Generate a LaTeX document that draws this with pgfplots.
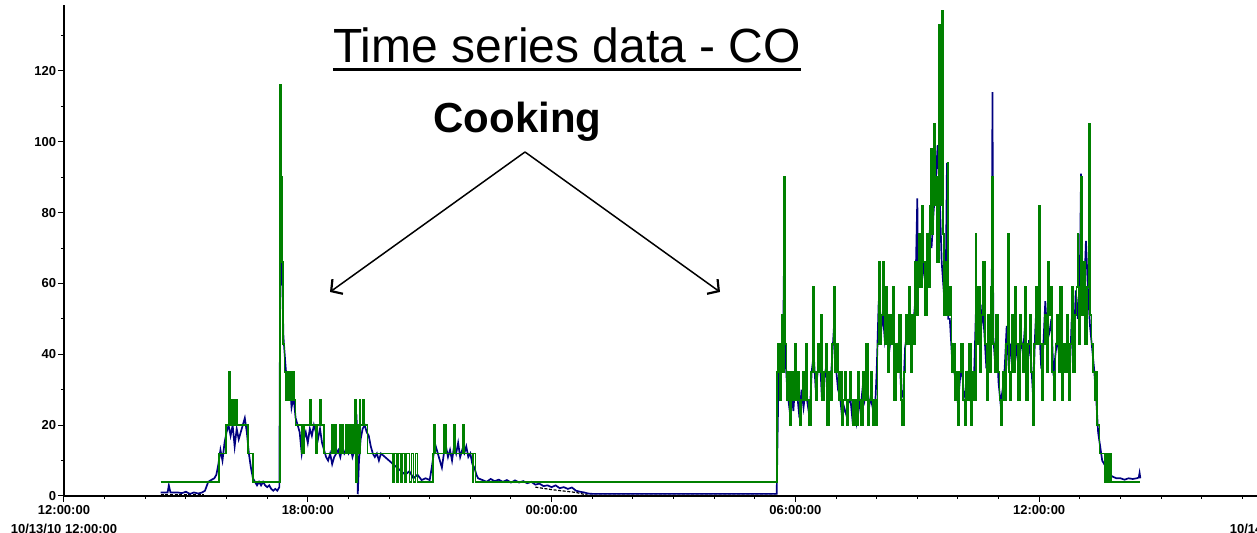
\documentclass[border=0pt]{standalone}
\usepackage{fontspec}
\setmainfont{Liberation Sans}
\usepackage{pgfplots}
\pgfplotsset{compat=1.18}
\usepackage{pgfplotstable}
\usetikzlibrary{arrows.meta}
\definecolor{cogreen}{RGB}{0,128,0}
\definecolor{conavy}{RGB}{0,0,128}

\pgfplotstableread{
h g
2.38 4
3.82 12
3.98 20
4.05 35
4.08 20
4.11 27
4.14 20
4.16 27
4.19 20
4.24 27
4.26 20
4.53 12
4.65 4
5.32 116
5.34 90
5.37 66
5.39 43
5.43 35
5.47 27
5.50 35
5.52 27
5.57 35
5.60 27
5.64 35
5.66 27
5.70 20
5.85 12
5.90 20
6.05 27
6.08 20
6.20 12
6.23 20
6.30 27
6.32 20
6.40 12
6.60 20
6.62 12
6.67 20
6.70 12
6.78 20
6.80 12
6.85 20
6.88 12
6.93 20
6.96 12
7.00 20
7.03 12
7.08 20
7.12 12
7.17 27
7.19 4
7.21 20
7.24 12
7.28 27
7.30 20
7.35 27
7.38 20
7.47 12
8.10 4
8.13 12
8.20 4
8.23 12
8.30 4
8.33 12
8.40 4
8.43 12
8.50 4
8.55 12
8.60 4
8.65 12
8.70 4
9.08 12
9.10 20
9.13 12
9.35 20
9.40 12
9.60 20
9.63 12
9.82 20
9.84 12
10.05 4
10.08 12
10.13 4
17.55 35
17.58 43
17.62 27
17.66 51
17.70 35
17.72 90
17.74 43
17.78 27
17.82 35
17.86 20
17.90 35
17.94 27
17.98 43
18.02 27
18.06 35
18.10 20
18.14 27
18.18 35
18.22 27
18.26 43
18.30 27
18.34 20
18.38 35
18.42 59
18.45 35
18.50 27
18.54 43
18.58 35
18.62 51
18.65 27
18.70 35
18.74 43
18.78 20
18.82 35
18.86 27
18.90 43
18.94 59
18.97 35
19.02 43
19.06 27
19.10 35
19.14 20
19.18 27
19.22 35
19.26 20
19.30 27
19.34 35
19.38 27
19.42 20
19.46 27
19.50 20
19.54 35
19.58 27
19.62 20
19.66 35
19.70 27
19.74 43
19.78 20
19.82 27
19.86 35
19.90 20
19.94 27
19.98 20
20.02 43
20.05 66
20.08 43
20.12 51
20.16 66
20.19 43
20.23 59
20.27 35
20.31 51
20.35 43
20.39 59
20.43 27
20.47 43
20.51 35
20.55 51
20.59 27
20.63 20
20.67 35
20.71 51
20.75 43
20.79 59
20.83 35
20.87 51
20.91 43
20.95 66
20.99 51
21.03 74
21.07 59
21.11 82
21.15 66
21.19 51
21.23 74
21.27 59
21.31 82
21.33 98
21.36 74
21.40 105
21.43 82
21.46 90
21.49 66
21.53 133
21.55 82
21.58 105
21.61 137
21.63 74
21.66 51
21.70 66
21.74 94
21.76 51
21.80 59
21.84 35
21.88 43
21.92 27
21.96 35
22.00 20
22.04 35
22.08 43
22.12 27
22.16 20
22.20 35
22.24 27
22.28 43
22.32 20
22.36 35
22.40 27
22.44 74
22.46 43
22.50 59
22.54 35
22.58 51
22.62 66
22.66 43
22.70 27
22.74 51
22.78 35
22.82 59
22.84 90
22.86 43
22.90 35
22.94 51
22.98 35
23.02 27
23.06 20
23.10 35
23.14 27
23.18 43
23.22 74
23.25 35
23.28 27
23.32 51
23.36 35
23.40 59
23.44 43
23.48 27
23.52 51
23.56 43
23.60 35
23.64 59
23.68 27
23.72 43
23.76 51
23.80 35
23.84 20
23.88 43
23.92 59
23.96 43
24.00 82
24.03 43
24.06 27
24.10 43
24.14 51
24.18 35
24.22 66
24.24 51
24.28 59
24.32 35
24.36 27
24.40 43
24.44 51
24.48 35
24.52 59
24.56 27
24.60 43
24.64 35
24.68 51
24.72 27
24.76 43
24.80 59
24.84 35
24.88 51
24.92 59
24.94 74
24.97 43
25.00 59
25.03 90
25.05 51
25.09 66
25.13 43
25.17 59
25.21 66
25.23 105
25.25 51
25.29 43
25.33 35
25.37 27
25.40 35
25.43 20
25.48 12
25.62 4
25.64 12
25.67 4
25.69 12
25.72 4
25.74 12
25.78 4
26.49 4
}\greendata

\pgfplotstableread{
h b
2.38 1
2.55 1
2.58 3
2.62 1
2.80 1
2.90 0.8
3.00 1.2
3.10 0.6
3.20 1
3.30 0.7
3.40 1
3.47 1.5
3.55 4
3.62 4.5
3.70 5
3.75 6
3.80 9
3.85 13
3.90 10
3.95 15
4.00 18
4.05 20
4.10 17
4.15 20
4.20 14
4.25 19
4.30 16
4.35 18
4.40 20
4.45 22
4.50 18
4.55 12
4.60 8
4.65 5
4.70 4
4.75 3
4.80 4
4.85 3
4.90 4
4.95 3
5.00 2.5
5.05 3
5.10 2
5.15 1.5
5.20 2
5.25 1.5
5.30 2.5
5.33 90
5.36 67
5.40 45
5.45 37
5.50 30
5.55 33
5.60 25
5.65 28
5.70 22
5.75 20
5.80 18
5.85 12
5.90 16
5.95 18
6.00 15
6.05 19
6.10 17
6.15 20
6.20 18
6.25 16
6.30 19
6.35 15
6.40 13
6.45 11
6.50 10
6.55 12
6.60 9
6.65 11
6.70 12
6.75 13
6.80 11
6.85 14
6.90 12
6.95 13
7.00 12
7.05 14
7.10 11
7.15 13
7.20 23
7.23 0.5
7.26 10
7.30 16
7.35 19
7.40 20
7.45 18
7.50 17
7.55 14
7.60 12
7.65 11
7.70 12
7.75 10
7.80 12
7.90 11
8.00 10
8.10 9
8.20 8
8.30 7
8.40 6
8.50 7
8.60 5
8.70 6
8.80 4.5
8.90 5
9.00 4.5
9.05 8
9.10 12
9.15 14
9.20 12
9.25 10
9.30 8
9.35 12
9.40 14
9.45 11
9.50 13
9.55 10
9.60 14
9.65 12
9.70 15
9.75 11
9.80 13
9.85 12
9.90 14
9.95 11
10.00 12
10.05 9
10.10 8
10.15 6
10.19 5
10.30 4.5
10.40 4
10.50 4.8
10.60 4.2
10.70 4.6
10.80 4
10.90 4.5
11.00 3.8
11.10 4.4
11.20 3.8
11.30 4.2
11.40 3.6
11.50 4
11.60 3.2
11.70 3.5
11.80 2.8
11.90 3
12.00 2.5
12.10 3
12.20 2.2
12.30 2.5
12.40 2
12.50 2.4
12.60 1.5
12.70 1.2
12.80 1
12.90 0.7
13.00 0.6
17.54 0.6
17.56 16
17.58 30
17.62 40
17.66 35
17.70 45
17.72 67
17.75 40
17.80 30
17.85 25
17.90 30
17.95 24
18.00 33
18.05 28
18.10 22
18.15 30
18.20 25
18.25 30
18.30 26
18.35 22
18.40 35
18.45 40
18.50 30
18.55 35
18.60 40
18.65 28
18.70 33
18.75 36
18.80 25
18.85 30
18.90 38
18.95 48
19.00 36
19.05 30
19.10 28
19.15 22
19.20 25
19.25 23
19.30 26
19.35 28
19.40 22
19.45 25
19.50 21
19.55 28
19.60 24
19.65 30
19.70 27
19.75 32
19.80 24
19.85 28
19.90 25
19.95 22
20.00 35
20.05 55
20.10 45
20.15 52
20.20 44
20.25 48
20.30 40
20.35 45
20.40 50
20.45 35
20.50 38
20.55 44
20.60 30
20.65 28
20.70 42
20.75 46
20.80 50
20.85 42
20.90 48
20.95 55
21.00 84
21.02 60
21.05 65
21.10 72
21.15 64
21.20 60
21.25 68
21.30 74
21.35 70
21.40 80
21.45 88
21.50 99
21.55 85
21.60 66
21.65 58
21.70 60
21.73 94
21.76 50
21.80 50
21.85 40
21.90 36
21.95 32
22.00 26
22.05 33
22.10 36
22.15 28
22.20 30
22.25 34
22.30 28
22.35 30
22.40 35
22.45 55
22.50 50
22.55 42
22.60 54
22.65 46
22.70 36
22.75 44
22.80 48
22.83 50
22.85 114
22.87 45
22.90 40
22.95 44
23.00 32
23.05 26
23.10 30
23.15 36
23.20 48
23.25 36
23.30 42
23.35 40
23.40 48
23.45 40
23.50 36
23.55 45
23.60 40
23.65 48
23.70 34
23.75 44
23.80 38
23.85 28
23.90 46
23.95 58
24.00 48
24.05 36
24.10 42
24.15 55
24.20 44
24.25 46
24.30 50
24.35 34
24.40 40
24.45 45
24.50 38
24.55 46
24.60 36
24.65 40
24.70 42
24.75 34
24.80 50
24.85 42
24.90 58
24.95 50
25.00 62
25.03 91
25.05 68
25.10 55
25.15 72
25.20 58
25.25 48
25.30 42
25.35 36
25.40 28
25.45 18
25.50 14
25.55 10
25.60 9
25.65 8
25.70 7
25.75 6
25.80 5.5
25.90 5
26.00 5
26.10 4.6
26.20 5
26.30 4.8
26.40 5
26.45 5.2
26.47 6.5
26.49 5
}\bluedata

\pgfplotstableread{
h k
2.38 0.3
3.45 0.3
}\blackA

\pgfplotstableread{
h k
11.60 2.5
12.00 1.8
12.60 1.0
12.90 0.2
17.54 0.2
}\blackB

\begin{document}
\begin{tikzpicture}
\begin{axis}[
  scale only axis, width=609.5pt, height=245.5pt,
  xmin=0, xmax=30, ymin=0, ymax=138.6,
  axis x line=bottom, axis y line=left,
  axis line style={-, line width=0.9pt, black},
  every outer x axis line/.append style={-},
  every outer y axis line/.append style={-},
  xtick={0,6,...,30}, minor x tick num=5,
  ytick={0,20,...,140}, minor y tick num=1,
  xticklabels={{12:00:00\\10/13/10 12:00:00},{18:00:00},{00:00:00},{06:00:00},{12:00:00},{18:00:00\\10/14/10 18:00:00}},
  tick align=outside, major tick length=3pt, minor tick length=1.5pt,
  tick style={black, line width=0.5pt},
  ticklabel style={font=\fontsize{6.5}{9.5}\selectfont\bfseries},
  xticklabel style={align=center, inner sep=1.5pt},
  yticklabel style={inner sep=0.8pt},
  /pgf/number format/assume math mode=true,
  clip=false,
]
\addplot[black, line width=0.6pt, dash pattern=on 1.5pt off 0.8pt] table[x=h,y=k] {\blackA};
\addplot[black, line width=0.6pt, dash pattern=on 1.5pt off 0.8pt] table[x=h,y=k] {\blackB};
\addplot[conavy, line width=0.85pt] table[x=h,y=b] {\bluedata};
\addplot[cogreen, line width=0.85pt, const plot] table[x=h,y=g] {\greendata};
\end{axis}
\node[anchor=base, inner sep=0pt, font=\fontsize{24}{28}\selectfont] (t) at (251.5pt,216.5pt) {Time series data - CO};
\draw[line width=1.5pt] ([yshift=-3.25pt]t.base west) -- ([yshift=-3.25pt]t.base east);
\node[anchor=base, inner sep=0pt, font=\fontsize{21}{25}\selectfont\bfseries] at (226.75pt,181.5pt) {Cooking};
\draw[line width=0.75pt, -{Straight Barb[length=4pt,width=9pt,line width=1.1pt]}] (230.5pt,172pt) -- (133pt,102pt);
\draw[line width=0.75pt, -{Straight Barb[length=4pt,width=9pt,line width=1.1pt]}] (230.5pt,172pt) -- (328pt,102pt);
\pgfresetboundingbox
\useasboundingbox (-32pt,-18.5pt) rectangle (596.5pt,248pt);
\end{tikzpicture}
\end{document}
